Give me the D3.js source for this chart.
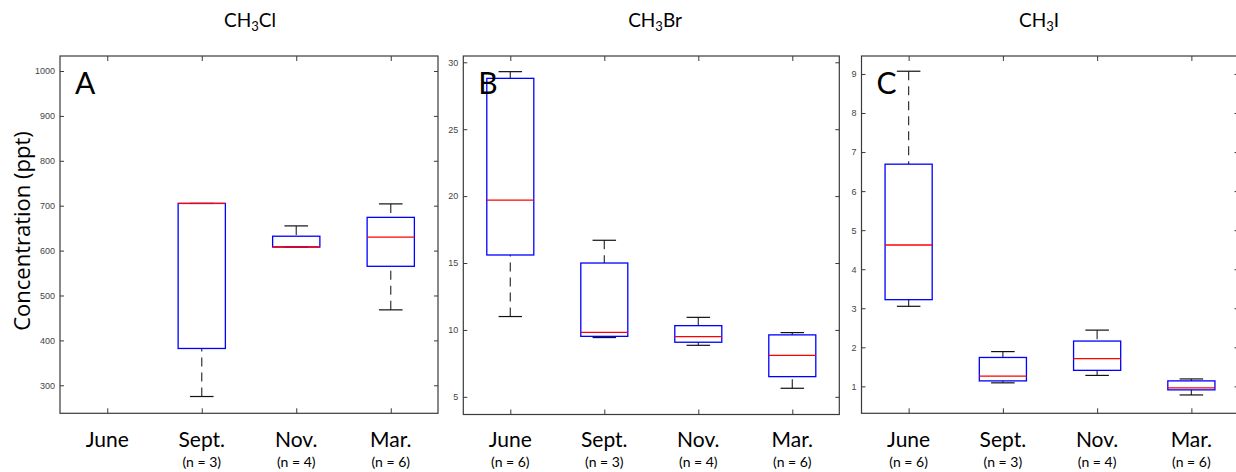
<!DOCTYPE html>
<html>
<head>
<meta charset="utf-8">
<script src="https://cdn.jsdelivr.net/npm/d3@7"></script>
<style>
  html, body { margin: 0; padding: 0; background: #fff; }
  svg { display: block; }
</style>
</head>
<body>
<svg id="chart" width="1236" height="472"></svg>
<script>
// ---------------- DATA ----------------
const categories = ["June", "Sept.", "Nov.", "Mar."];

// CH3Cl (panel A) — no June data
const nLabelsA = [null, "(n = 3)", "(n = 4)", "(n = 6)"];
const lowA  = [null, 275, 608, 468];
const q1A   = [null, 382, 608, 565];
const medA  = [null, 705, 608, 630];
const q3A   = [null, 705, 632, 674];
const highA = [null, 705, 655, 704];
const ticksA = [300, 400, 500, 600, 700, 800, 900, 1000];

// CH3Br (panel B)
const nLabelsB = ["(n = 6)", "(n = 3)", "(n = 4)", "(n = 6)"];
const lowB  = [11.0, 9.43, 8.85, 5.64];
const q1B   = [15.6, 9.52, 9.08, 6.51];
const medB  = [19.7, 9.82, 9.50, 8.10];
const q3B   = [28.8, 15.0, 10.32, 9.63];
const highB = [29.3, 16.7, 10.94, 9.80];
const ticksB = [5, 10, 15, 20, 25, 30];

// CH3I (panel C)
const nLabelsC = ["(n = 6)", "(n = 3)", "(n = 4)", "(n = 6)"];
const lowC  = [3.05, 1.09, 1.28, 0.78];
const q1C   = [3.22, 1.14, 1.41, 0.91];
const medC  = [4.62, 1.26, 1.71, 0.96];
const q3C   = [6.69, 1.74, 2.16, 1.14];
const highC = [9.07, 1.89, 2.44, 1.19];
const ticksC = [1, 2, 3, 4, 5, 6, 7, 8, 9];

const yLabel = "Concentration (ppt)";

// ---------------- LAYOUT ----------------
const panels = [
  { title: ["CH", "3", "Cl"], letter: "A", x0: 60,    x1: 438,    y0: 56, y1: 413.3, domain: [237.6, 1033.4],
    ticks: ticksA, low: lowA, q1: q1A, med: medA, q3: q3A, high: highA, n: nLabelsA, titleX: 250 },
  { title: ["CH", "3", "Br"], letter: "B", x0: 463.3, x1: 839.3,  y0: 56, y1: 414.5, domain: [3.68, 30.47],
    ticks: ticksB, low: lowB, q1: q1B, med: medB, q3: q3B, high: highB, n: nLabelsB, titleX: 655 },
  { title: ["CH", "3", "I"],  letter: "C", x0: 861.5, x1: 1238.5, y0: 56, y1: 413.3, domain: [0.31, 9.46],
    ticks: ticksC, low: lowC, q1: q1C, med: medC, q3: q3C, high: highC, n: nLabelsC, titleX: 1039 }
];

const svg = d3.select("#chart");
const axisColor = "#3a3a3a";
const labelFont = "Lato, 'Open Sans', sans-serif";

panels.forEach(p => {
  const x = d3.scaleLinear().domain([0.5, categories.length + 0.5]).range([p.x0, p.x1]);
  const y = d3.scaleLinear().domain(p.domain).range([p.y1, p.y0]);
  const g = svg.append("g");
  const idx = d3.range(categories.length);
  const boxW = (x(1) - x(0)) * 0.5;
  const capW = (x(1) - x(0)) * 0.25;

  // Frame
  g.append("rect")
    .attr("x", p.x0).attr("y", p.y0)
    .attr("width", p.x1 - p.x0).attr("height", p.y1 - p.y0)
    .attr("fill", "none").attr("stroke", axisColor).attr("stroke-width", 1.2);

  // Left axis (ticks inward, labels)
  const left = g.append("g").attr("transform", `translate(${p.x0},0)`)
    .call(d3.axisLeft(y).tickValues(p.ticks).tickFormat(d3.format("d"))
      .tickSizeInner(-4).tickSizeOuter(0).tickPadding(5));
  // Right axis (ticks inward)
  const right = g.append("g").attr("transform", `translate(${p.x1},0)`)
    .call(d3.axisRight(y).tickValues(p.ticks).tickSizeInner(-4).tickSizeOuter(0).tickFormat(""));
  // Top axis
  const top = g.append("g").attr("transform", `translate(0,${p.y0})`)
    .call(d3.axisTop(x).tickValues(idx.map(i => i + 1)).tickSizeInner(-5).tickSizeOuter(0).tickFormat(""));
  // Bottom axis
  const bottom = g.append("g").attr("transform", `translate(0,${p.y1})`)
    .call(d3.axisBottom(x).tickValues(idx.map(i => i + 1)).tickSizeInner(-5).tickSizeOuter(0).tickFormat(""));

  [left, right, top, bottom].forEach(a => {
    a.select(".domain").remove();
    a.selectAll(".tick line").attr("stroke", axisColor).attr("stroke-width", 1);
  });
  left.selectAll(".tick text")
    .attr("font-family", "'Liberation Sans', Arial, sans-serif")
    .attr("font-size", 9).attr("fill", "#444");

  // Category labels
  g.selectAll(".cat").data(categories).join("text")
    .attr("x", (d, i) => x(i + 1)).attr("y", 447)
    .attr("text-anchor", "middle")
    .attr("font-family", labelFont).attr("font-size", 21).attr("fill", "#000")
    .text(d => d);
  g.selectAll(".nlab").data(p.n.map((t, i) => ({ t, i })).filter(d => d.t)).join("text")
    .attr("x", d => x(d.i + 1)).attr("y", 467)
    .attr("text-anchor", "middle")
    .attr("font-family", labelFont).attr("font-size", 14).attr("fill", "#000")
    .text(d => d.t);

  // Boxplots
  const stats = idx.filter(i => p.med[i] != null).map(i => ({
    i, low: p.low[i], q1: p.q1[i], med: p.med[i], q3: p.q3[i], high: p.high[i]
  }));
  const bg = g.append("g");
  // whiskers (dashed), from cap toward box
  bg.selectAll(".wu").data(stats).join("line")
    .attr("x1", d => x(d.i + 1)).attr("x2", d => x(d.i + 1))
    .attr("y1", d => y(d.high)).attr("y2", d => y(d.q3))
    .attr("stroke", "#333").attr("stroke-width", 1.2).attr("stroke-dasharray", "9,6");
  bg.selectAll(".wl").data(stats).join("line")
    .attr("x1", d => x(d.i + 1)).attr("x2", d => x(d.i + 1))
    .attr("y1", d => y(d.low)).attr("y2", d => y(d.q1))
    .attr("stroke", "#333").attr("stroke-width", 1.2).attr("stroke-dasharray", "9,6");
  // caps
  bg.selectAll(".cu").data(stats).join("line")
    .attr("x1", d => x(d.i + 1) - capW / 2).attr("x2", d => x(d.i + 1) + capW / 2)
    .attr("y1", d => y(d.high)).attr("y2", d => y(d.high))
    .attr("stroke", "#111").attr("stroke-width", 1.2);
  bg.selectAll(".cl").data(stats).join("line")
    .attr("x1", d => x(d.i + 1) - capW / 2).attr("x2", d => x(d.i + 1) + capW / 2)
    .attr("y1", d => y(d.low)).attr("y2", d => y(d.low))
    .attr("stroke", "#111").attr("stroke-width", 1.2);
  // boxes
  bg.selectAll(".box").data(stats).join("rect")
    .attr("x", d => x(d.i + 1) - boxW / 2).attr("width", boxW)
    .attr("y", d => y(d.q3)).attr("height", d => Math.max(0.01, y(d.q1) - y(d.q3)))
    .attr("fill", "none").attr("stroke", "#0000ff").attr("stroke-width", 1.3);
  // medians
  bg.selectAll(".med").data(stats).join("line")
    .attr("x1", d => x(d.i + 1) - boxW / 2).attr("x2", d => x(d.i + 1) + boxW / 2)
    .attr("y1", d => y(d.med)).attr("y2", d => y(d.med))
    .attr("stroke", "#ff0000").attr("stroke-width", 1.3);

  // Panel letter
  g.append("text")
    .attr("x", p.x0 + 15).attr("y", 94)
    .attr("font-family", labelFont).attr("font-size", 30).attr("fill", "#000")
    .text(p.letter);

  // Title with subscript
  const t = g.append("text")
    .attr("x", p.titleX).attr("y", 27)
    .attr("text-anchor", "middle")
    .attr("font-family", labelFont).attr("font-size", 19).attr("fill", "#000");
  t.append("tspan").text(p.title[0]);
  t.append("tspan").attr("font-size", 13).attr("dy", 4).text(p.title[1]);
  t.append("tspan").attr("dy", -4).text(p.title[2]);
});

// Y axis label
svg.append("text")
  .attr("transform", "translate(30,231) rotate(-90)")
  .attr("text-anchor", "middle")
  .attr("font-family", "'Open Sans', sans-serif").attr("font-size", 22).attr("fill", "#000")
  .text(yLabel);
</script>
</body>
</html>
